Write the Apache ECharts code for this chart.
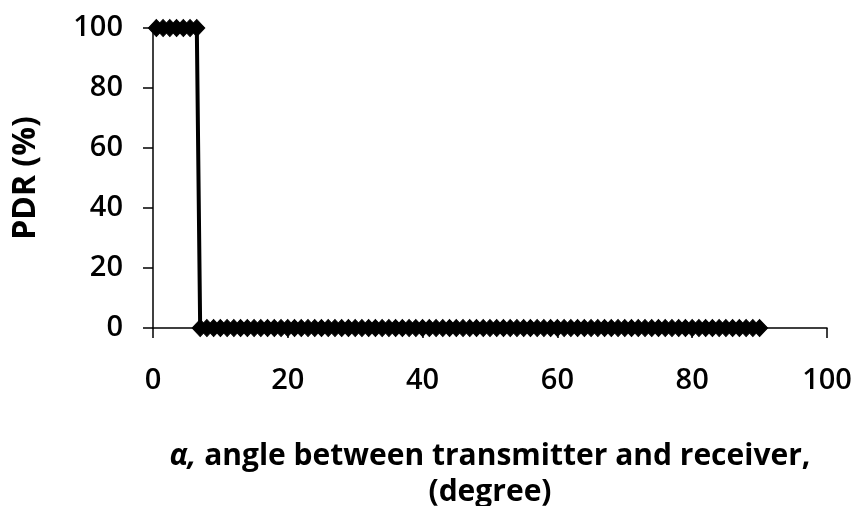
<!DOCTYPE html>
<html><head><meta charset="utf-8">
<script src="https://cdn.jsdelivr.net/npm/echarts@6/dist/echarts.min.js"></script>
<style>html,body{margin:0;padding:0;background:#fff}#c{width:856px;height:506px}</style>
</head><body><div id="c"></div>
<script>
// Angle (degree) and PDR (%)
const anglesHigh = [0.5, 1.5, 2.5, 3.5, 4.5, 5.5, 6.5];
const pdrHigh = [100, 100, 100, 100, 100, 100, 100];
const anglesLow = [7, 8, 9, 10, 11, 12, 13, 14, 15, 16, 17, 18, 19, 20, 21, 22, 23, 24, 25, 26, 27, 28, 29, 30,
  31, 32, 33, 34, 35, 36, 37, 38, 39, 40, 41, 42, 43, 44, 45, 46, 47, 48, 49, 50, 51, 52, 53, 54, 55, 56, 57, 58,
  59, 60, 61, 62, 63, 64, 65, 66, 67, 68, 69, 70, 71, 72, 73, 74, 75, 76, 77, 78, 79, 80, 81, 82, 83, 84, 85, 86,
  87, 88, 89, 90];
const pdrLow = anglesLow.map(() => 0);
const xTicks = [0, 20, 40, 60, 80, 100];
const yTicks = [0, 20, 40, 60, 80, 100];

const data = [];
anglesHigh.forEach((a, i) => data.push([a, pdrHigh[i]]));
anglesLow.forEach((a, i) => data.push([a, pdrLow[i]]));

const font = 'Open Sans';
const chart = echarts.init(document.getElementById('c'), null, {renderer: 'canvas'});
chart.setOption({
  animation: false,
  backgroundColor: '#fff',
  grid: {left: 153, right: 29, top: 28, bottom: 178, containLabel: false, outerBoundsMode: 'none'},
  xAxis: {
    type: 'value', min: xTicks[0], max: xTicks[xTicks.length - 1], interval: 20,
    axisLine: {lineStyle: {color: '#000', width: 1.5}},
    axisTick: {show: true, length: 10, lineStyle: {color: '#000', width: 1.5}},
    splitLine: {show: false},
    axisLabel: {color: '#000', fontFamily: font, fontWeight: 600, fontSize: 29, margin: 38},
    name: '{a|α,} {b|angle between transmitter and receiver,}\n{b|(degree)}',
    nameLocation: 'middle', nameGap: 110,
    nameTextStyle: {
      color: '#000', fontFamily: font, fontWeight: 'bold', fontSize: 30, lineHeight: 36, align: 'center',
      rich: {
        a: {fontFamily: font, fontWeight: 'bold', fontStyle: 'italic', fontSize: 30, color: '#000', lineHeight: 36},
        b: {fontFamily: font, fontWeight: 'bold', fontSize: 30, color: '#000', lineHeight: 36}
      }
    }
  },
  yAxis: {
    type: 'value', min: yTicks[0], max: yTicks[yTicks.length - 1], interval: 20,
    axisLine: {show: true, lineStyle: {color: '#000', width: 1.5}},
    axisTick: {show: true, length: 10, lineStyle: {color: '#000', width: 1.5}},
    splitLine: {show: false},
    axisLabel: {color: '#000', fontFamily: font, fontWeight: 600, fontSize: 29, margin: 30},
    name: 'PDR (%)', nameLocation: 'middle', nameGap: 111, nameRotate: 90,
    nameTextStyle: {color: '#000', fontFamily: font, fontWeight: 'bold', fontSize: 32}
  },
  series: [{
    type: 'line', data: data,
    symbol: 'diamond', symbolSize: [16, 17],
    lineStyle: {color: '#000', width: 4},
    itemStyle: {color: '#000', borderColor: '#000'},
    clip: false
  }]
});
</script></body></html>
